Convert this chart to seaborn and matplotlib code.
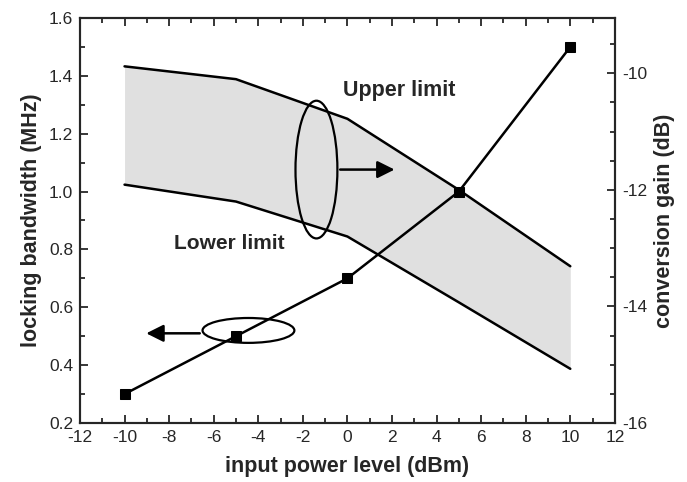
import numpy as np
import pandas as pd
import seaborn as sns
import matplotlib.pyplot as plt
from matplotlib.patches import Ellipse, FancyArrowPatch
from matplotlib.ticker import MultipleLocator

# data
power = [-10, -5, 0, 5, 10]
bandwidth = [0.30, 0.50, 0.70, 1.00, 1.50]
upper_gain = [-9.88, -10.10, -10.78, -12.00, -13.31]
lower_gain = [-11.91, -12.20, -12.80, -13.93, -15.07]

sns.set_style('ticks')
plt.rcParams['font.family'] = ['Liberation Sans', 'DejaVu Sans']
plt.rcParams['axes.unicode_minus'] = False

fig = plt.figure(figsize=(6.87, 4.82), dpi=100)
ax = fig.add_axes([0.1164, 0.1224, 0.7786, 0.8403])
ax2 = ax.twinx()

gain = pd.DataFrame({'power': power, 'upper': upper_gain, 'lower': lower_gain})
ax2.fill_between(gain.power, gain.lower, gain.upper, color='0.88', lw=0)
sns.lineplot(data=gain, x='power', y='upper', ax=ax2, color='black', lw=1.8)
sns.lineplot(data=gain, x='power', y='lower', ax=ax2, color='black', lw=1.8)

bw = pd.DataFrame({'power': power, 'bandwidth': bandwidth})
ax.set_zorder(ax2.get_zorder() + 1)
ax.patch.set_visible(False)
sns.lineplot(data=bw, x='power', y='bandwidth', ax=ax, color='black', lw=1.8,
             marker='s', markersize=6.5, markeredgecolor='black')

ax.set_xlim(-12, 12)
ax.set_ylim(0.2, 1.6)
ax2.set_ylim(-16, -9.05)
ax.xaxis.set_major_locator(MultipleLocator(2))
ax.xaxis.set_minor_locator(MultipleLocator(1))
ax.yaxis.set_major_locator(MultipleLocator(0.2))
ax.yaxis.set_minor_locator(MultipleLocator(0.1))
ax2.yaxis.set_major_locator(MultipleLocator(2))
ax2.yaxis.set_minor_locator(MultipleLocator(0.5))
ax.yaxis.set_major_formatter(plt.FormatStrFormatter('%.1f'))

ax.tick_params(which='both', direction='in', top=True, right=False, labelsize=12.5, width=1.3)
ax.tick_params(which='major', length=6, pad=5)
ax.tick_params(which='minor', length=3.5)
ax2.tick_params(which='both', direction='in', labelsize=12.5, width=1.3)
ax2.tick_params(which='major', length=6, pad=5)
ax2.tick_params(which='minor', length=3.5)
for a in (ax, ax2):
    for s in a.spines.values():
        s.set_linewidth(1.5)
        s.set_visible(True)

ax.set_xlabel('input power level (dBm)', fontsize=15.5, fontweight='bold', labelpad=8)
ax.set_ylabel('locking bandwidth (MHz)', fontsize=15.5, fontweight='bold', labelpad=5)
ax2.set_ylabel('conversion gain (dB)', fontsize=15.5, fontweight='bold', labelpad=5)

# annotations
ax.add_patch(Ellipse((-1.39, 1.076), 1.88, 0.476, fill=False, ec='black', lw=1.6))
ax.add_patch(FancyArrowPatch((-0.45, 1.076), (2.24, 1.076), arrowstyle='-|>',
                             mutation_scale=26, color='black', lw=1.8))
ax.add_patch(Ellipse((-4.44, 0.52), 4.12, 0.086, fill=False, ec='black', lw=1.6))
ax.add_patch(FancyArrowPatch((-6.5, 0.51), (-9.15, 0.51), arrowstyle='-|>',
                             mutation_scale=26, color='black', lw=1.8))
ax.text(-0.18, 1.348, 'Upper limit', fontsize=15.5, fontweight='bold', va='center')
ax.text(-7.8, 0.82, 'Lower limit', fontsize=15, fontweight='bold', va='center')

fig.savefig('out.png', dpi=100)
